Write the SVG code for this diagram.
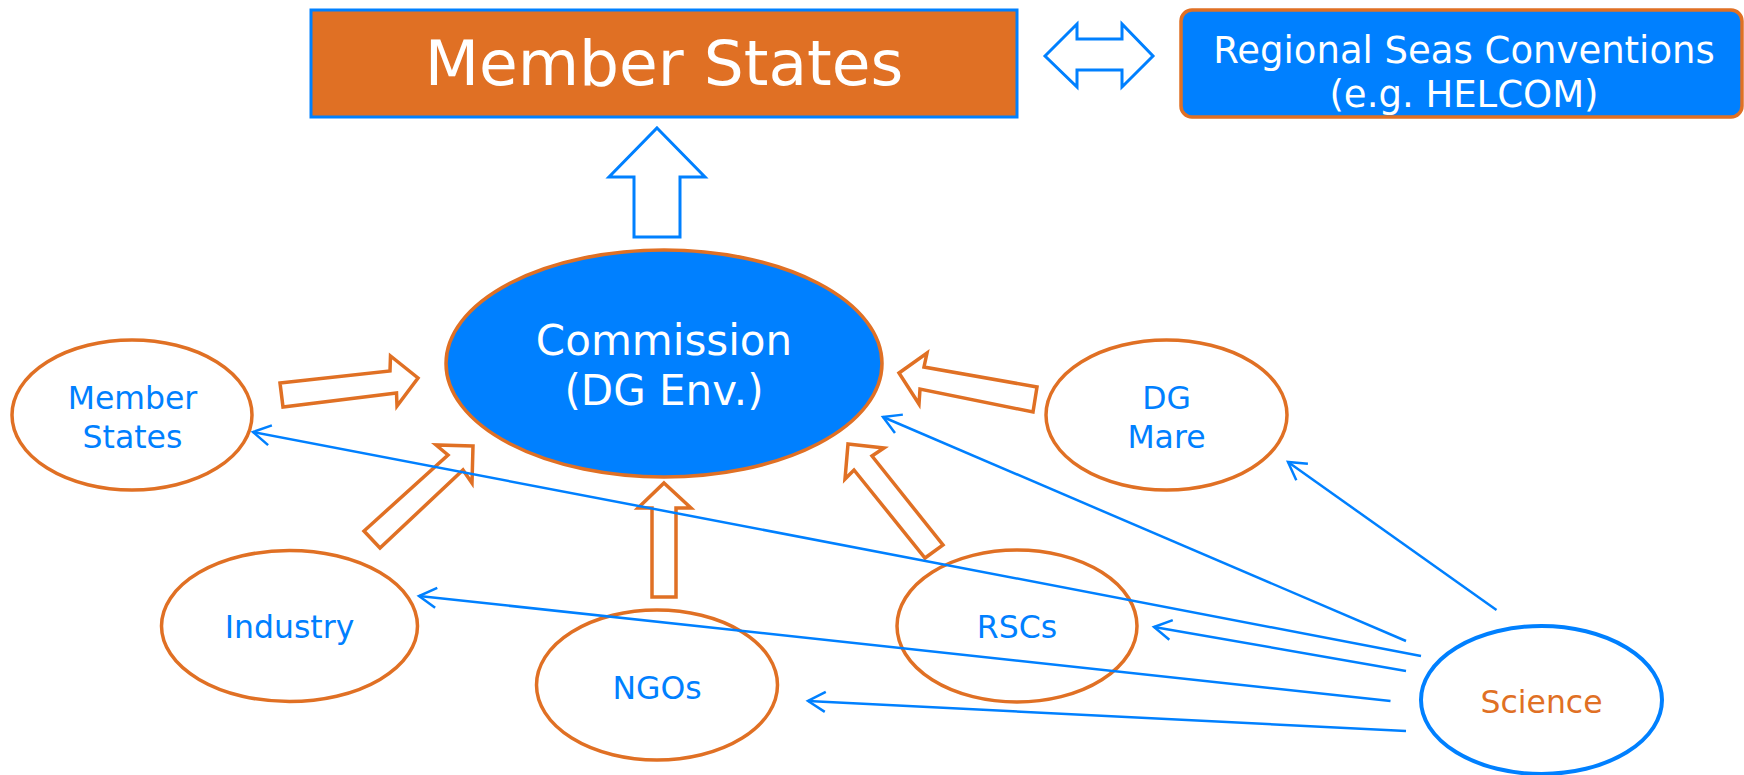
<svg xmlns="http://www.w3.org/2000/svg" width="1744" height="775" viewBox="0 0 1744 775">
  <style>
    .lbl { font-family: "DejaVu Sans", Verdana, "Liberation Sans", sans-serif; text-anchor: middle; }
    .small { font-size: 31.5px; fill: #0080FF; }
    .node-o { fill: #FFFFFF; stroke: #E07024; stroke-width: 3.5; }
    .block-o { fill: #FFFFFF; stroke: #E07024; stroke-width: 3.5; stroke-linejoin: miter; }
    .block-b { fill: #FFFFFF; stroke: #0080FF; stroke-width: 3; stroke-linejoin: miter; }
    .link { fill: none; stroke: #0080FF; stroke-width: 2.5; marker-end: url(#open-v); }
  </style>
  <defs>
    <marker id="open-v" viewBox="-21 -13 24 26" refX="0" refY="0" markerWidth="24" markerHeight="26" markerUnits="userSpaceOnUse" orient="auto">
      <path d="M-17.3,-10 L0,0 L-17.3,10" fill="none" stroke="#0080FF" stroke-width="2.5"/>
    </marker>
  </defs>

  <rect width="1744" height="775" fill="#FFFFFF"/>

  <!-- top level -->
  <g id="member-states-top">
    <rect x="311" y="10" width="706" height="107" fill="#E07024" stroke="#0080FF" stroke-width="3"/>
    <text class="lbl" x="664" y="85" font-size="63" fill="#FFFFFF">Member States</text>
  </g>
  <g id="regional-seas">
    <rect x="1181" y="10" width="561" height="107" rx="11" ry="11" fill="#0080FF" stroke="#E07024" stroke-width="3.5"/>
    <text class="lbl" x="1464" y="63" font-size="37" fill="#FFFFFF">Regional Seas Conventions</text>
    <text class="lbl" x="1464" y="107" font-size="37" fill="#FFFFFF">(e.g. HELCOM)</text>
  </g>

  <!-- commission -->
  <g id="commission">
    <ellipse cx="664" cy="363.5" rx="218" ry="113.5" fill="#0080FF" stroke="#E07024" stroke-width="3.5"/>
    <text class="lbl" x="664" y="355" font-size="42" fill="#FFFFFF">Commission</text>
    <text class="lbl" x="664" y="405" font-size="42" fill="#FFFFFF">(DG Env.)</text>
  </g>

  <!-- stakeholders -->
  <g id="member-states">
    <ellipse class="node-o" cx="132" cy="415" rx="120" ry="75"/>
    <text class="lbl small" x="132.5" y="409">Member</text>
    <text class="lbl small" x="132.5" y="448">States</text>
  </g>
  <g id="dg-mare">
    <ellipse class="node-o" cx="1166.5" cy="415" rx="120.5" ry="75"/>
    <text class="lbl small" x="1166.5" y="409">DG</text>
    <text class="lbl small" x="1166.5" y="448">Mare</text>
  </g>
  <g id="industry">
    <ellipse class="node-o" cx="289.5" cy="626" rx="128" ry="75.5"/>
    <text class="lbl small" x="289.5" y="638">Industry</text>
  </g>
  <g id="ngos">
    <ellipse class="node-o" cx="657" cy="685" rx="120.5" ry="75"/>
    <text class="lbl small" x="657" y="699">NGOs</text>
  </g>
  <g id="rscs">
    <ellipse class="node-o" cx="1017" cy="626" rx="120" ry="76"/>
    <text class="lbl small" x="1017" y="638">RSCs</text>
  </g>
  <g id="science">
    <ellipse cx="1541.5" cy="700" rx="120.5" ry="74" fill="#FFFFFF" stroke="#0080FF" stroke-width="4"/>
    <text class="lbl" x="1541.5" y="713" font-size="31.5" fill="#E07024">Science</text>
  </g>

  <!-- connectors -->
  <g id="connectors">
    <!-- block arrows -->
    <polygon class="block-b" points="657,128 705,177 680,177 680,237 634,237 634,177 609,177"/>
    <polygon class="block-b" points="1045,56 1077,24 1077,39 1122,39 1122,24 1153,56 1122,87 1122,70 1077,70 1077,87"/>
    <polygon class="block-o" points="280,383 390,371 390.5,356 418,378 397,406 396.5,393 283,407"/>
    <polygon class="block-o" points="899,373 927,353 924,367 1037,387 1033,412 920,389 919,404"/>
    <polygon class="block-o" points="473,446 436,445 448,455 364,531 380,548 463,470 472,483"/>
    <polygon class="block-o" points="664,483 691,508 676,508 676,597 652,597 652,508 638,508"/>
    <polygon class="block-o" points="848,444 884,448 872,456 943,545 925,558 854,470 845,479"/>

    <!-- science links -->
    <line class="link" x1="1496.5" y1="610" x2="1288" y2="462"/>
    <line class="link" x1="1406" y1="641" x2="883" y2="417"/>
    <line class="link" x1="1421" y1="656" x2="253" y2="432"/>
    <line class="link" x1="1406" y1="671" x2="1154" y2="627"/>
    <line class="link" x1="1390.5" y1="701" x2="419" y2="596"/>
    <line class="link" x1="1406" y1="731" x2="808" y2="701"/>
  </g>
</svg>
